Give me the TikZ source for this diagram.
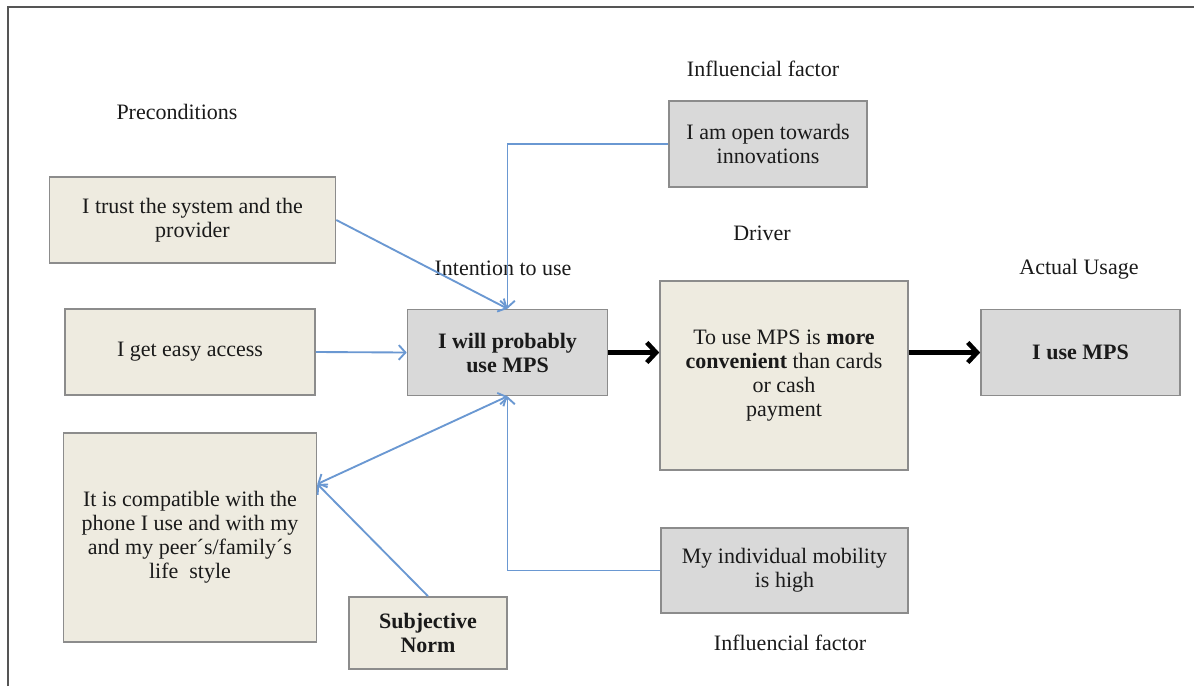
\documentclass[tikz,border=0pt]{standalone}
\usepackage{fontspec}
\setmainfont{Liberation Serif}
\usetikzlibrary{arrows.meta,calc}
\definecolor{beige}{HTML}{EEEBE0}
\definecolor{greyfill}{HTML}{D9D9D9}
\definecolor{boxline}{HTML}{8C8C8C}
\definecolor{flow}{HTML}{6A98D2}
\definecolor{ink}{HTML}{1A1A1A}
\definecolor{frame}{HTML}{555555}
\begin{document}
\begin{tikzpicture}[x=0.75pt,y=-0.75pt,
  every node/.style={font=\fontsize{16.5}{18}\selectfont, text=ink},
  box/.style={draw=boxline, line width=1.2pt, rectangle, align=center, inner sep=2pt},
  beigebox/.style={box, fill=beige},
  greyishbox/.style={box, fill=greyfill},
  link/.style={draw=flow, line width=1.4pt, -{Straight Barb[length=5pt,width=11pt]}},
  bothlink/.style={draw=flow, line width=1.4pt, {Straight Barb[length=5pt,width=11pt]}-{Straight Barb[length=5pt,width=11pt]}},
  mainflow/.style={draw=black, line width=3.4pt, -{Straight Barb[length=7pt,width=15pt]}},
  caption/.style={inner sep=0pt}]
\useasboundingbox (0,0) rectangle (1194,686);
\fill[white] (0,0) rectangle (1194,686);

% frame lines
\draw[frame, line width=1.2pt] (8,686) -- (8,7) -- (1194,7);

% section captions
\node[caption] (lpre)  at (177,112) {Preconditions};
\node[caption] (linf1) at (763,69)  {Influencial factor};
\node[caption] (ldrv)  at (762,233) {Driver};
\node[caption] (lint)  at (503,268) {Intention to use};
\node[caption] (lact)  at (1079,269) {Actual Usage};
\node[caption] (linf2) at (790,643) {Influencial factor};

% preconditions
\node[beigebox, minimum width=214.5pt, minimum height=64.5pt] (trust) at (192.5,220)
  {I trust the system and the\\provider};
\node[beigebox, minimum width=187.5pt, minimum height=64.5pt] (easy) at (190,352)
  {I get easy access};
\node[beigebox, minimum width=189.75pt, minimum height=156.75pt] (compat) at (190,537.5)
  {It is compatible with the\\phone I use and with my\\and my peer´s/family´s\\life\ \ style};
\node[beigebox, minimum width=118.5pt, minimum height=54pt] (subj) at (428,633)
  {\textbf{Subjective}\\\textbf{Norm}};

% intention, driver, usage
\node[greyishbox, minimum width=150pt, minimum height=64.5pt] (will) at (507.5,352.5)
  {\textbf{I will probably}\\\textbf{use MPS}};
\node[greyishbox, minimum width=148.5pt, minimum height=64.5pt] (open) at (768,144)
  {I am open towards\\innovations};
\node[beigebox, minimum width=186pt, minimum height=141.75pt] (conv) at (784,375.5)
  {To use MPS is \textbf{more}\\\textbf{convenient} than cards\\or cash\\payment};
\node[greyishbox, minimum width=149.25pt, minimum height=64.5pt] (iuse) at (1080.5,352.5)
  {\textbf{I use MPS}};
\node[greyishbox, minimum width=185.25pt, minimum height=63.75pt] (mob) at (784.5,570.5)
  {My individual mobility\\is high};

% port on the right side of the compatibility box
\coordinate (cport) at ($(compat.east)+(0,-53.5)$);

% influences
\draw[link] (trust.east) -- (will.north);
\draw[link] (open.west) -| (will.north);
\draw[link] (easy.east) -- (will.west);
\draw[bothlink] (cport) -- (will.south);
\draw[link] (subj.north) -- (cport);
\draw[link] (mob.west) -| (will.south);

% main flow
\draw[mainflow] (will.east) -- (will.east -| conv.west);
\draw[mainflow] (iuse.west -| conv.east) -- (iuse.west);
\end{tikzpicture}
\end{document}
